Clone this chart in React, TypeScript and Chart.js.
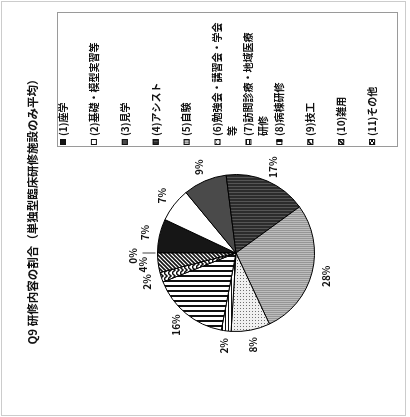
import React, { useEffect, useRef } from "react";
import { Chart, registerables } from "chart.js";

Chart.register(...registerables);

const titleText = "Q9 研修内容の割合（単独型臨床研修施設のみ平均）";
const categoryLines = [
  ["(1)座学"],
  ["(2)基礎・模型実習等"],
  ["(3)見学"],
  ["(4)アシスト"],
  ["(5)自験"],
  ["(6)勉強会・講習会・学会", "等"],
  ["(7)訪問診療・地域医療", "研修"],
  ["(8)病棟研修"],
  ["(9)技工"],
  ["(10)雑用"],
  ["(11)その他"],
];
const categories = categoryLines.map((l) => l.join(""));
const shares = [7, 7, 9, 17, 28, 8, 2, 16, 2, 4, 0];

const FONT = "'Noto Sans CJK JP', 'Noto Sans', sans-serif";
const W = 417;
const H = 410;

function makePattern(ctx: CanvasRenderingContext2D, kind: number): CanvasPattern | string {
  const c = document.createElement("canvas");
  const g = c.getContext("2d") as CanvasRenderingContext2D;
  const set = (w: number, h: number, bg: string) => {
    c.width = w;
    c.height = h;
    g.fillStyle = bg;
    g.fillRect(0, 0, w, h);
  };
  switch (kind) {
    case 0:
      return "#161616";
    case 1:
      return "#ffffff";
    case 2:
      return "#4a4a4a";
    case 3:
      set(3, 1, "#2c2c2c");
      g.fillStyle = "#555555";
      g.fillRect(2, 0, 1, 1);
      break;
    case 4:
      set(2, 1, "#969696");
      g.fillStyle = "#bdbdbd";
      g.fillRect(1, 0, 1, 1);
      break;
    case 5:
      set(3, 3, "#f0f0f0");
      g.fillStyle = "#707070";
      g.fillRect(0, 0, 1, 1);
      break;
    case 6:
      set(1, 3, "#ffffff");
      g.fillStyle = "#111";
      g.fillRect(0, 0, 1, 1);
      break;
    case 7:
      set(5, 1, "#ffffff");
      g.fillStyle = "#111";
      g.fillRect(0, 0, 2, 1);
      break;
    case 8:
      set(6, 4, "#ffffff");
      g.strokeStyle = "#111";
      g.lineWidth = 1.5;
      g.beginPath();
      g.moveTo(0, 0);
      g.lineTo(3, 3);
      g.lineTo(6, 0);
      g.stroke();
      break;
    case 9:
      set(4, 4, "#ffffff");
      g.strokeStyle = "#111";
      g.lineWidth = 1.6;
      g.beginPath();
      g.moveTo(-1, 5);
      g.lineTo(5, -1);
      g.moveTo(-1, 1);
      g.lineTo(1, -1);
      g.moveTo(3, 5);
      g.lineTo(5, 3);
      g.stroke();
      break;
    default:
      set(4, 4, "#ffffff");
      g.strokeStyle = "#111";
      g.lineWidth = 1;
      g.beginPath();
      g.moveTo(0, 0);
      g.lineTo(4, 4);
      g.moveTo(4, 0);
      g.lineTo(0, 4);
      g.stroke();
      break;
  }
  return ctx.createPattern(c, "repeat") as CanvasPattern;
}

export default function App() {
  const ref = useRef<HTMLCanvasElement | null>(null);

  useEffect(() => {
    const canvas = ref.current;
    if (!canvas) return;
    const ctx = canvas.getContext("2d") as CanvasRenderingContext2D;
    const fills = categories.map((_, i) => makePattern(ctx, i));

    const framePlugin = {
      id: "frame",
      beforeDraw(chart: any) {
        const c = chart.ctx;
        c.save();
        c.fillStyle = "#ffffff";
        c.fillRect(0, 0, chart.width, chart.height);
        c.strokeStyle = "#cccccc";
        c.lineWidth = 1;
        c.strokeRect(1.5, 1.5, chart.width - 3, chart.height - 6);
        c.restore();
      },
    };

    const labelPlugin = {
      id: "pieLabels",
      afterDatasetsDraw(chart: any) {
        const c = chart.ctx;
        const meta = chart.getDatasetMeta(0);
        c.save();
        c.fillStyle = "#111";
        c.strokeStyle = "#444";
        c.lineWidth = 1;
        c.font = `bold 10px ${FONT}`;
        c.textAlign = "center";
        c.textBaseline = "middle";
        meta.data.forEach((arc: any, i: number) => {
          const p = arc.getProps(["x", "y", "startAngle", "endAngle", "outerRadius"], true);
          const mid = (p.startAngle + p.endAngle) / 2;
          const r = p.outerRadius;
          const txt = shares[i] + "%";
          if (shares[i] === 0) {
            c.beginPath();
            c.moveTo(p.x + Math.cos(mid) * (r + 2), p.y + Math.sin(mid) * (r + 2));
            c.lineTo(p.x + Math.cos(mid) * (r + 15), p.y + Math.sin(mid) * (r + 15));
            c.stroke();
            c.fillText(txt, p.x + Math.cos(mid) * (r + 24) - 3, p.y + Math.sin(mid) * (r + 24));
          } else {
            c.fillText(txt, p.x + Math.cos(mid) * (r + 15), p.y + Math.sin(mid) * (r + 15));
          }
        });
        c.restore();
      },
    };

    const overlayPlugin = {
      id: "overlay",
      afterDraw(chart: any) {
        const c = chart.ctx;
        c.save();
        c.fillStyle = "#111";
        c.font = `bold 11.5px ${FONT}`;
        c.textAlign = "center";
        c.textBaseline = "middle";
        c.fillText(titleText, 208, 33);
        const bx = 270, by = 57, bw = 134, bh = 340;
        c.strokeStyle = "#9a9a9a";
        c.lineWidth = 1;
        c.strokeRect(bx + 0.5, by + 0.5, bw, bh);
        c.font = `bold 10px ${FONT}`;
        c.textAlign = "left";
        const step = bh / categories.length;
        categoryLines.forEach((lines, i) => {
          const cy = by + 6 + step * i;
          c.fillStyle = fills[i] as any;
          c.fillRect(bx + 2, cy - 3, 6, 6);
          c.strokeStyle = "#111";
          c.strokeRect(bx + 2.5, cy - 2.5, 5, 5);
          c.fillStyle = "#111";
          lines.forEach((ln, k) => c.fillText(ln, bx + 11, cy + k * 15));
        });
        c.restore();
      },
    };

    const chart = new Chart(canvas, {
      type: "pie",
      data: {
        labels: categories,
        datasets: [
          {
            data: shares,
            backgroundColor: fills as any,
            borderColor: "#000000",
            borderWidth: 1,
            hoverOffset: 0,
            offset: 0,
          },
        ],
      },
      options: {
        responsive: false,
        animation: false,
        devicePixelRatio: 1,
        layout: { padding: { left: 85, right: 174, top: 157, bottom: 95 } },
        plugins: {
          legend: { display: false },
          title: { display: false },
          tooltip: { enabled: false },
        },
        events: [],
      },
      plugins: [framePlugin, labelPlugin, overlayPlugin],
    });

    return () => chart.destroy();
  }, []);

  return (
    <div
      style={{
        position: "fixed",
        left: 0,
        top: 0,
        width: 410,
        height: 417,
        overflow: "hidden",
        background: "#fff",
      }}
    >
      <div
        style={{
          position: "absolute",
          left: 0,
          top: 0,
          width: W,
          height: H,
          transformOrigin: "0 0",
          transform: "translateY(417px) rotate(-90deg)",
        }}
      >
        <canvas ref={ref} width={W} height={H} style={{ width: W, height: H, display: "block" }} />
      </div>
    </div>
  );
}
